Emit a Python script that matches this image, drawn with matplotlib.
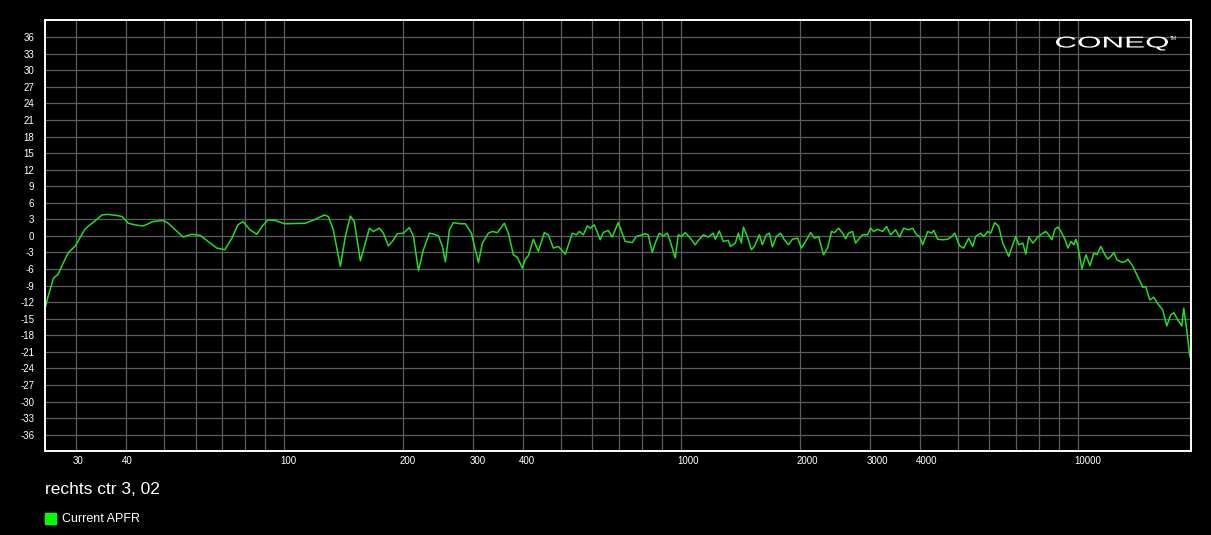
import matplotlib
matplotlib.use("Agg")
from matplotlib import pyplot as plt
from matplotlib.patches import Rectangle, PathPatch
from matplotlib.textpath import TextPath
from matplotlib.font_manager import FontProperties
from matplotlib.transforms import Affine2D, IdentityTransform

plt.rcParams['font.family'] = ['Liberation Sans', 'DejaVu Sans']

# measured response (Hz, dB)
freq = [25.1, 25.5, 25.8, 26.3, 27.05, 27.9, 28.7, 29.9, 30.7, 31.6,
        32.5, 33.6, 34.9, 36.1, 38.05, 39.2, 40.6, 42.2, 44.3, 46.9,
        49.7, 51.2, 53.2, 55.8, 58.7, 61.6, 64.5, 67.9, 70.0, 71.1,
        74.1, 76.7, 79.0, 82.3, 85.6, 88.2, 91.3, 95.1, 100.8, 113.4,
        120.2, 126.7, 129.7, 133.4, 139.0, 143.1, 147.3, 150.7, 156.1, 159.8,
        164.5, 168.4, 174.3, 178.4, 183.6, 187.9, 193.5, 200.4, 207.4, 212.4,
        218.6, 225.0, 233.0, 239.8, 245.5, 251.2, 255.6, 261.6, 267.7, 278.8,
        287.1, 297.2, 309.6, 316.8, 328.0, 335.8, 345.6, 359.9, 368.3, 379.2,
        388.1, 399.5, 406.5, 413.6, 425.8, 438.3, 453.8, 464.5, 478.1, 492.2,
        512.6, 533.9, 546.4, 556.0, 569.0, 582.4, 592.6, 606.5, 627.4, 638.5,
        657.3, 672.7, 696.6, 725.5, 755.6, 773.3, 800.6, 814.7, 829.1, 848.5,
        863.5, 883.7, 904.6, 925.9, 942.1, 969.8, 986.9, 1004, 1028, 1058,
        1089, 1115, 1141, 1175, 1209, 1223, 1252, 1281, 1319, 1335,
        1374, 1398, 1423, 1440, 1473, 1508, 1534, 1580, 1607, 1645,
        1674, 1704, 1744, 1785, 1827, 1870, 1914, 1971, 2017, 2065,
        2126, 2175, 2227, 2292, 2346, 2401, 2443, 2501, 2560, 2604,
        2650, 2712, 2760, 2809, 2874, 2959, 3011, 3064, 3136, 3229,
        3305, 3383, 3482, 3563, 3648, 3755, 3843, 3934, 4003, 4074,
        4194, 4293, 4343, 4444, 4575, 4709, 4820, 4905, 5048, 5168,
        5319, 5444, 5540, 5703, 5804, 5940, 6045, 6188, 6333, 6482,
        6711, 6869, 6990, 7112, 7281, 7408, 7539, 7717, 7944, 8178,
        8322, 8420, 8619, 8771, 8925, 9083, 9297, 9461, 9627, 9794,
        9907, 10025, 10259, 10500, 10746, 10998, 11191, 11452, 11721, 11927,
        12136, 12349, 12566, 12935, 13237, 13391, 13784, 14189, 14605, 14861,
        15209, 15566, 15931, 16399, 16784, 17178, 17479, 17889, 18308, 18521,
        18846, 19178, 19350]
spl = [-13.0, -11.0, -9.8, -7.7, -6.9, -4.8, -3.0, -1.8, -0.3, 1.2,
       2.0, 2.8, 3.8, 3.9, 3.7, 3.5, 2.3, 2.0, 1.8, 2.6,
       2.8, 2.3, 1.2, -0.2, 0.3, 0.1, -1.0, -2.2, -2.4, -2.5,
       -0.4, 2.0, 2.6, 1.1, 0.3, 1.7, 2.9, 2.8, 2.2, 2.3,
       3.0, 3.8, 3.5, 1.1, -5.5, -0.1, 3.6, 2.6, -4.5, -1.9,
       1.4, 0.8, 1.4, 0.5, -1.8, -1.0, 0.4, 0.5, 1.5, -0.1,
       -6.3, -2.5, 0.5, 0.3, 0.0, -1.9, -4.7, 1.1, 2.4, 2.2,
       2.2, 0.5, -4.8, -1.3, 0.5, 0.8, 0.6, 2.3, 0.5, -3.4,
       -3.9, -5.8, -4.2, -3.6, -0.6, -2.8, 0.6, 0.2, -2.2, -1.9,
       -3.3, 0.5, 0.2, 0.8, 0.2, 1.8, 1.4, 2.0, -0.7, 0.6,
       1.0, -0.2, 2.4, -1.0, -1.2, -0.1, 0.2, 0.4, 0.2, -3.0,
       -1.3, 0.5, 0.0, 0.5, -1.0, -4.0, 0.2, -0.1, 0.6, -0.4,
       -1.6, -0.6, 0.2, -0.2, 0.5, -0.6, 0.9, -1.0, -0.8, -1.9,
       -1.3, 0.5, -1.3, 1.6, -0.1, -2.5, -1.9, 0.2, -1.6, 0.2,
       0.5, -2.0, -0.1, 0.5, -0.7, -1.6, -0.6, -0.4, -2.2, -1.0,
       0.6, -0.4, -0.1, -3.4, -2.2, 0.8, 0.6, 1.4, 0.5, -0.5,
       0.5, 0.8, -1.3, -0.6, 0.2, 0.2, 1.4, 0.8, 1.2, 0.8,
       1.7, 0.2, 1.1, -0.2, 1.4, 1.1, 1.4, 0.2, -0.1, -1.6,
       0.8, 0.5, 1.0, -0.6, -0.7, -0.6, -0.1, 0.5, -1.8, -2.2,
       -0.4, -1.9, -0.1, 0.5, -0.1, 0.8, 0.5, 2.4, 1.7, -1.3,
       -3.7, -1.6, -0.1, -1.6, -1.3, -3.3, -0.2, -1.3, -0.2, 0.5,
       0.8, 0.4, -0.7, 1.2, 1.6, 0.8, -0.6, -2.2, -1.0, -1.6,
       -0.6, -1.9, -6.0, -3.4, -5.4, -3.1, -3.4, -1.9, -3.4, -4.2,
       -3.7, -3.0, -4.3, -4.8, -4.6, -4.2, -5.5, -7.4, -9.3, -9.2,
       -11.6, -11.1, -12.3, -13.4, -16.3, -14.3, -13.9, -15.2, -16.3, -13.1,
       -17.0, -21.7, -22.5]

y_ticks = list(range(-36, 37, 3))
x_labels = [30, 40, 100, 200, 300, 400, 1000, 2000, 3000, 4000, 10000]
x_grid = [m * d for d in (10, 100, 1000, 10000) for m in range(1, 10)]
x_grid = [v for v in x_grid if 25.1 < v < 19350]

title = "rechts ctr 3, 02"
legend_label = "Current APFR"

W, H = 1211, 535
fig = plt.figure(figsize=(W / 100, H / 100), dpi=100, facecolor='black')
ax = fig.add_axes([45.3 / W, 1 - 451 / H, (1191.3 - 45.3) / W, (451 - 20) / H])
ax.set_facecolor('black')
ax.set_xscale('log')
ax.set_xlim(25.1, 19350)
ax.set_ylim(-38.95, 39.1)

for y in y_ticks:
    ax.axhline(y, color='#5c5c5c', lw=0.9, zorder=1)
for x in x_grid:
    ax.axvline(x, color='#5c5c5c', lw=0.9, zorder=1)

ax.plot(freq, spl, color='#22dd22', lw=1.1, zorder=3)

ax.set_yticks(y_ticks)
ax.set_yticklabels([str(v) for v in y_ticks])
ax.tick_params(axis='y', length=0, pad=8, labelcolor='white', labelsize=7)
ax.xaxis.set_major_locator(matplotlib.ticker.NullLocator())
ax.xaxis.set_minor_locator(matplotlib.ticker.NullLocator())
for f in x_labels:
    ax.annotate(str(f), xy=(f, 0), xycoords=('data', 'axes fraction'),
                xytext=(-2.5, -3.5), textcoords='offset points',
                ha='left', va='top', color='white', fontsize=7)

for s in ax.spines.values():
    s.set_color('white')
    s.set_linewidth(1.4)
    s.set_zorder(4)

fig.text(45 / W, 1 - 489 / H, title, color='white', fontsize=12.5,
         ha='left', va='center')
fig.patches.append(Rectangle((45 / W, 1 - 524 / H), 10.7 / W, 10.7 / H,
                             transform=fig.transFigure, color='#00ff00'))
fig.text(61.5 / W, 1 - 518.5 / H, legend_label, color='white', fontsize=9,
         ha='left', va='center')

# logo, stretched wide
tp = TextPath((0, 0), "CONEQ", size=1, prop=FontProperties(family='Liberation Sans'))
bb = tp.get_extents()
tr = (Affine2D().translate(-bb.x0, -bb.y0)
      .scale(112 / bb.width, 14 / bb.height)
      .translate(1056, H - 50.5))
logo = PathPatch(tr.transform_path(tp), facecolor='white', edgecolor='none',
                 transform=IdentityTransform())
fig.patches.append(logo)
fig.text(1170 / W, 1 - 38 / H, "TM", color='white', fontsize=3.5,
         ha='left', va='center')

fig.savefig('out.png', dpi=100, facecolor='black')
